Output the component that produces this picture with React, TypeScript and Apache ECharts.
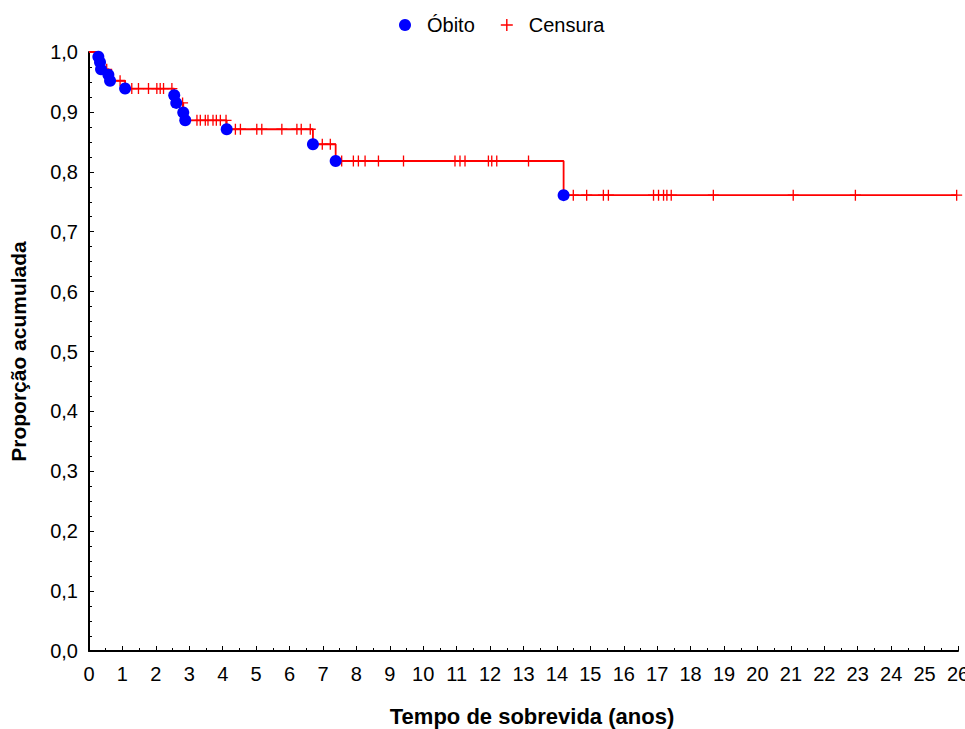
import React, { useEffect, useRef } from "react";
import * as echarts from "echarts";

// Death events (Óbito): time (years) and cumulative proportion surviving after the event
const deathTimes = [0.28, 0.33, 0.36, 0.58, 0.63, 1.08, 2.55, 2.61, 2.82, 2.88, 4.12, 6.7, 7.38, 14.2];
const deathSurvival = [0.992, 0.983, 0.971, 0.962, 0.952, 0.939, 0.928, 0.915, 0.899, 0.886, 0.871, 0.846, 0.818, 0.761];

// Censored observations (Censura): time (years)
const censorTimes = [
  0.45, 0.53, 0.93, 1.28, 1.48, 1.78, 2.03, 2.13, 2.23, 2.48, 2.8,
  3.23, 3.33, 3.48, 3.56, 3.71, 3.81, 3.93, 4.1,
  4.38, 4.53, 5.02, 5.17, 5.77, 6.22, 6.35, 6.62,
  6.98, 7.22,
  7.56, 7.91, 8.06, 8.26, 8.66, 9.41, 10.95, 11.1, 11.25, 11.95, 12.05, 12.2, 13.15,
  14.49, 14.89, 15.39, 15.54, 16.89, 17.04, 17.19, 17.29, 17.42, 18.68, 21.07, 22.93, 25.96,
];

const xMax = 26;
const yTicks = [0, 0.1, 0.2, 0.3, 0.4, 0.5, 0.6, 0.7, 0.8, 0.9, 1.0];

const survivalAt = (t: number) => {
  let s = 1;
  for (let i = 0; i < deathTimes.length; i++) {
    if (deathTimes[i] <= t) s = deathSurvival[i];
  }
  return s;
};

const PLUS = "path://M4.4,0H5.6V4.4H10V5.6H5.6V10H4.4V5.6H0V4.4H4.4Z";

export default function App() {
  const ref = useRef<HTMLDivElement>(null);
  useEffect(() => {
    if (!ref.current) return;
    const chart = echarts.init(ref.current, null, { renderer: "svg" });

    const stepData: [number, number][] = [[0, 1]];
    deathTimes.forEach((t, i) => stepData.push([t, deathSurvival[i]]));
    const lastT = censorTimes[censorTimes.length - 1];
    stepData.push([lastT, survivalAt(lastT)]);

    const deathData = deathTimes.map((t, i) => [t, deathSurvival[i]]);
    const censorData = censorTimes.map((t) => [t, survivalAt(t)]);

    const font = "Arial, 'Liberation Sans', sans-serif";

    chart.setOption({
      animation: false,
      backgroundColor: "#ffffff",
      textStyle: { fontFamily: font },
      legend: {
        top: 10,
        left: 394,
        itemGap: 26,
        itemWidth: 12,
        itemHeight: 12,
        textStyle: { fontSize: 20, color: "#000", fontFamily: font, padding: [0, 0, 0, 11] },
        data: [
          { name: "Óbito", icon: "circle", itemStyle: { opacity: 1, color: "#0000ff" } },
          { name: "Censura", icon: PLUS },
        ],
      },
      grid: { left: 89, right: 7, top: 52, bottom: 78, containLabel: false, outerBoundsMode: "none" },
      xAxis: {
        type: "value",
        min: 0,
        max: xMax,
        interval: 1,
        name: "Tempo de sobrevida (anos)",
        nameLocation: "middle",
        nameGap: 54,
        nameTextStyle: { fontSize: 22, fontWeight: "bold", color: "#000", fontFamily: font, padding: [0, 0, 0, 17] },
        axisLine: { show: true, onZero: false, lineStyle: { color: "#000", width: 2 } },
        axisTick: { show: true, inside: true, length: 5, lineStyle: { color: "#000", width: 1 } },
        minorTick: { show: true, splitNumber: 2, length: 3, lineStyle: { color: "#000", width: 1 } },
        axisLabel: { fontSize: 20, color: "#000", margin: 13, fontFamily: font, showMaxLabel: true, hideOverlap: false },
        splitLine: { show: false },
      },
      yAxis: {
        type: "value",
        min: 0,
        max: 1,
        interval: 0.1,
        name: "Proporção acumulada",
        nameLocation: "middle",
        nameGap: 60,
        nameTextStyle: { fontSize: 21, fontWeight: "bold", color: "#000", fontFamily: font },
        axisLine: { show: true, lineStyle: { color: "#000", width: 2 } },
        axisTick: { show: true, inside: true, length: 5, lineStyle: { color: "#000", width: 1 } },
        minorTick: { show: true, splitNumber: 4, length: 3, lineStyle: { color: "#000", width: 1 } },
        axisLabel: {
          fontSize: 20,
          color: "#000",
          margin: 11,
          fontFamily: font,
          formatter: (v: number) => {
            const t = yTicks.find((y) => Math.abs(y - v) < 1e-6);
            return (t !== undefined ? t : v).toFixed(1).replace(".", ",");
          },
        },
        splitLine: { show: false },
      },
      series: [
        {
          name: "curve",
          type: "line",
          step: "end",
          data: stepData,
          showSymbol: false,
          symbol: "none",
          lineStyle: { color: "#ff0000", width: 1.8 },
          z: 1,
        },
        {
          name: "Censura",
          type: "scatter",
          data: censorData,
          symbol: PLUS,
          symbolSize: 11,
          itemStyle: { color: "#ff0000", opacity: 1 },
          z: 2,
        },
        {
          name: "Óbito",
          type: "scatter",
          data: deathData,
          symbol: "circle",
          symbolSize: 12,
          itemStyle: { color: "#0000ff", opacity: 1 },
          z: 3,
        },
      ],
    });
    return () => chart.dispose();
  }, []);

  return (
    <div
      ref={ref}
      style={{ position: "fixed", left: 0, top: 0, width: 965, height: 729, background: "#fff" }}
    />
  );
}
